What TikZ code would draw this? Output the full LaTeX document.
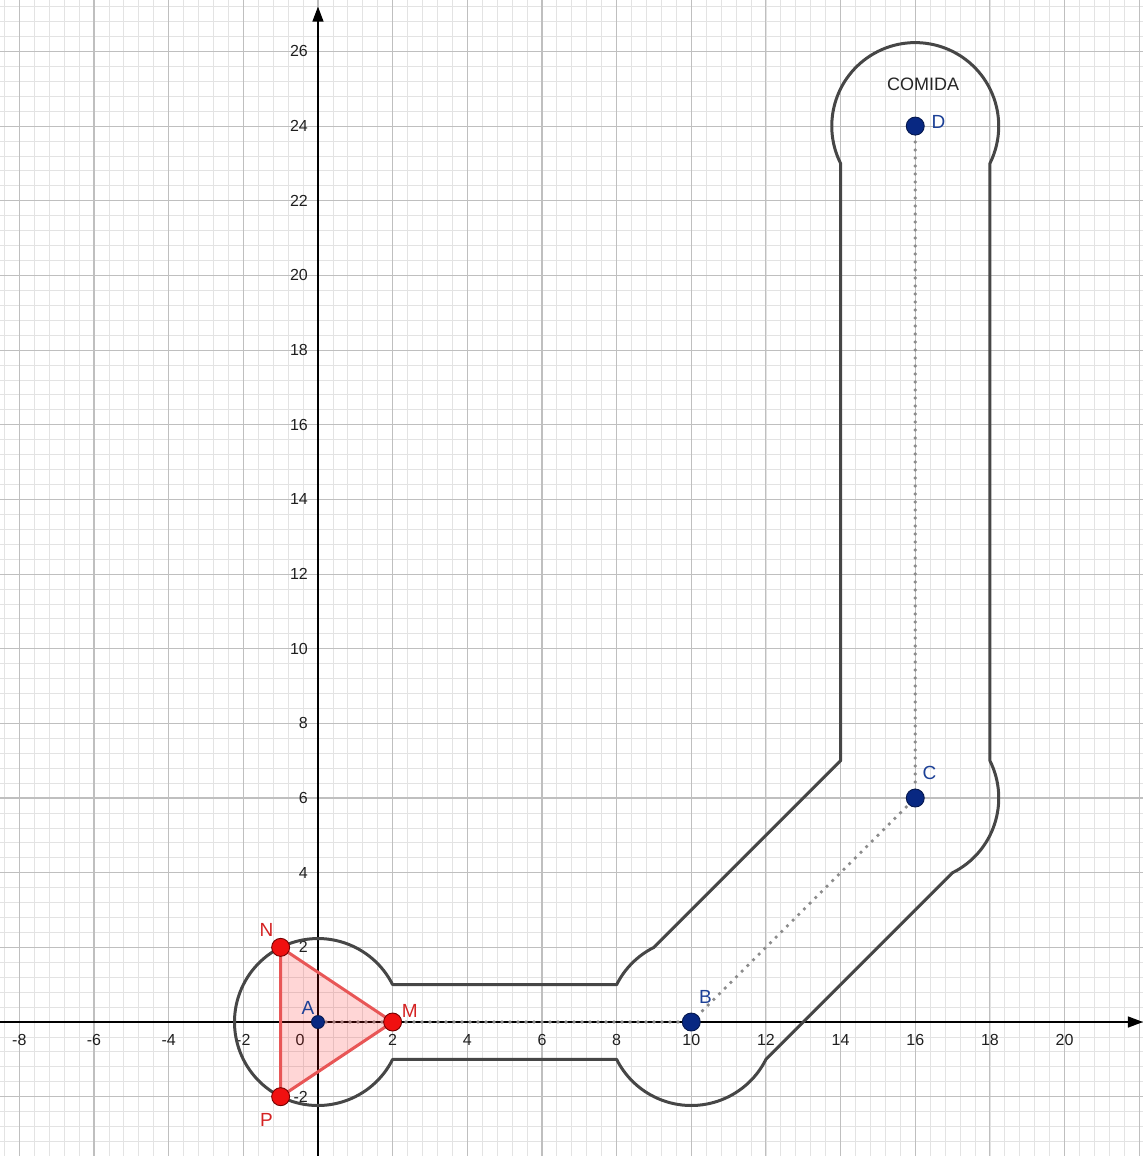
\documentclass[tikz,border=0pt]{standalone}
\usepackage{fontspec}
\setmainfont{Liberation Sans}
\usetikzlibrary{arrows.meta}
\definecolor{gglabel}{RGB}{28,64,150}
\definecolor{ggnavy}{RGB}{8,40,130}
\definecolor{ggred}{RGB}{240,16,16}
\definecolor{ggredline}{RGB}{232,86,86}
\definecolor{ggredlbl}{RGB}{212,34,34}
\definecolor{ggwall}{RGB}{70,70,70}
\tikzset{
  minorgrid/.style={black!11,line width=0.8pt},
  majorgrid/.style={black!25,line width=1.1pt},
  axisline/.style={black,line width=1.3pt,-{Triangle[length=15pt,width=11pt]}},
  ticklbl/.style={font=\fontsize{16}{19}\selectfont,text=black!88,inner sep=1pt},
  wall/.style={ggwall,line width=3pt},
  dotline/.style={black!45,line width=3.8pt,dash pattern=on 0pt off 8pt,line cap=round},
  bluept/.style={circle,fill=ggnavy,draw=ggnavy!60!black,line width=0.9pt,inner sep=0pt,minimum size=18pt},
  smallpt/.style={bluept,minimum size=13pt},
  redpt/.style={circle,fill=ggred,draw=red!45!black,line width=0.9pt,inner sep=0pt,minimum size=18pt},
  bluelbl/.style={font=\fontsize{19}{22}\selectfont,text=gglabel,inner sep=0pt},
  redlbl/.style={font=\fontsize{19}{22}\selectfont,text=ggredlbl,inner sep=0pt}
}
\begin{document}
\begin{tikzpicture}[x=37.33pt,y=37.33pt,line join=round]
\useasboundingbox (-8.518,-3.589) rectangle (22.101,27.378);
% grid
\draw[minorgrid,step=0.4] (-8.518,-3.589) grid (22.101,27.378);
\draw[majorgrid,step=2] (-8.518,-3.589) grid (22.101,27.378);
% axes
\draw[axisline] (-8.518,0) -- (22.10,0);
\draw[axisline] (0,-3.589) -- (0,27.2);
\foreach \x in {-8,-6,-4,-2,2,4,...,20}
  \node[ticklbl] (tx\x) at (\x,-0.48) {\x};
\foreach \y in {-2,2,4,...,26}
  \node[ticklbl,anchor=east] (ty\y) at (-0.24,\y) {\y};
\node[ticklbl] (t0) at (-0.48,-0.48) {0};
% centres
\coordinate (A) at (0,0);
\coordinate (B) at (10,0);
\coordinate (C) at (16,6);
\coordinate (D) at (16,24);
\coordinate (M) at (2,0);
\coordinate (N) at (-1,2);
\coordinate (P) at (-1,-2);
% path of the corridor
\draw[wall,line cap=round] (2,1) -- (8,1)
  arc[start angle=153.435,end angle=116.565,radius=2.2361] -- (14,7) -- (14,23)
  arc[start angle=206.565,end angle=-26.565,radius=2.2361] -- (18,7)
  arc[start angle=26.565,end angle=-63.435,radius=2.2361] -- (12,-1)
  arc[start angle=-26.565,end angle=-153.435,radius=2.2361] -- (2,-1)
  arc[start angle=-26.565,end angle=-333.435,radius=2.2361] -- cycle;
\draw[dotline] (A) -- (B);
\draw[dotline] (B) -- (C);
\draw[dotline] (C) -- (D);
% triangle
\fill[red,opacity=0.16] (N) -- (M) -- (P) -- cycle;
\draw[ggredline,line width=3pt] (N) -- (M) -- (P) -- cycle;
% points
\node[smallpt] (ptA) at (A) {};
\node[bluept] (ptB) at (B) {};
\node[bluept] (ptC) at (C) {};
\node[bluept] (ptD) at (D) {};
\node[redpt] (ptM) at (M) {};
\node[redpt] (ptN) at (N) {};
\node[redpt] (ptP) at (P) {};
\node[bluelbl] (lblA) at ([shift={(-0.27,0.38)}]A) {A};
\node[bluelbl] (lblB) at ([shift={(0.38,0.67)}]B) {B};
\node[bluelbl] (lblC) at ([shift={(0.38,0.67)}]C) {C};
\node[bluelbl] (lblD) at ([shift={(0.62,0.11)}]D) {D};
\node[redlbl] (lblM) at ([shift={(0.46,0.29)}]M) {M};
\node[redlbl] (lblN) at ([shift={(-0.38,0.46)}]N) {N};
\node[redlbl] (lblP) at ([shift={(-0.38,-0.62)}]P) {P};
\node[font=\fontsize{18}{21}\selectfont,text=black!85] (food) at (16.21,25.13) {COMIDA};
\end{tikzpicture}
\end{document}
